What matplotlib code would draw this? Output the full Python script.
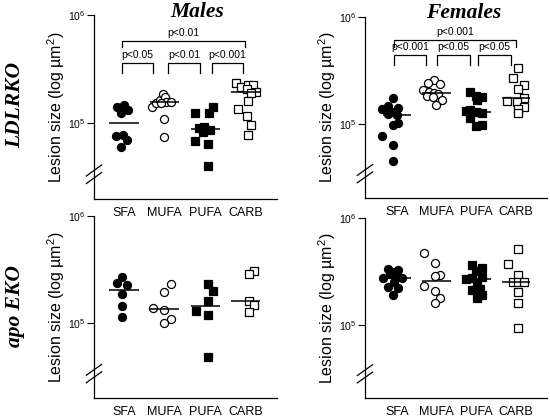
#!/usr/bin/env python3
"""Aortic lesion size by diet (SFA / MUFA / PUFA / CARB),
LDLRKO and apoEKO mice, males and females. Log scale, medians as bars."""
import matplotlib.pyplot as plt
from matplotlib.ticker import NullLocator

plt.rcParams['font.family'] = ['Liberation Sans', 'DejaVu Sans']
plt.rcParams['mathtext.fontset'] = 'custom'
plt.rcParams['mathtext.rm'] = 'Liberation Sans'
plt.rcParams['mathtext.it'] = 'Liberation Sans:italic'

GROUPS = ["SFA", "MUFA", "PUFA", "CARB"]

# lesion sizes in 10^3 um^2; jitter is the
# horizontal scatter of each dot around its group (in group units)
ldlr_male = [
    [147, 142, 132, 123, 77, 76, 69, 60],
    [140, 152, 163, 186, 175, 155, 155, 152, 110, 74],
    [125, 140, 123, 92, 89, 86, 83, 68, 64, 40],
    [233, 217, 225, 225, 205, 195, 191, 161, 134, 115, 96, 77],
]
ldlr_male_jit = [
    [0.01, -0.18, 0.11, -0.07, -0.02, -0.20, 0.07, -0.07],
    [-0.31, -0.22, -0.12, -0.04, 0.0, 0.04, 0.15, -0.08, -0.02, -0.02],
    [-0.24, 0.19, 0.09, -0.02, -0.14, 0.11, -0.06, -0.24, 0.07, 0.07],
    [-0.23, -0.11, 0.06, 0.18, 0.02, 0.26, 0.14, 0.06, -0.2, 0.04, 0.14, 0.06],
]
ldlr_male_med = [100, 157, 88, 195]
ldlr_male_p = ["p<0.05", "p<0.01", "p<0.001"]
ldlr_male_p_all = "p<0.01"

ldlr_female = [
    [176, 147, 140, 137, 130, 123, 121, 103, 98, 77, 63, 45],
    [258, 240, 235, 208, 200, 196, 191, 183, 180, 167, 151],
    [200, 183, 180, 167, 135, 132, 130, 126, 113, 98, 96],
    [331, 267, 231, 211, 174, 165, 162, 145, 137, 128],
]
ldlr_female_jit = [
    [-0.11, -0.24, 0.03, -0.38, -0.09, -0.24, -0.01, 0.03, -0.11, -0.38, -0.11, -0.11],
    [-0.07, -0.21, 0.07, -0.34, -0.19, -0.07, 0.03, -0.25, -0.09, 0.12, -0.01],
    [-0.15, 0.0, 0.14, 0.02, -0.15, -0.27, 0.0, 0.14, -0.15, 0.14, 0.0],
    [0.06, -0.08, 0.2, 0.06, 0.2, -0.23, 0.02, 0.2, 0.06, 0.06],
]
ldlr_female_med = [121, 194, 130, 174]
ldlr_female_p = ["p<0.001", "p<0.05", "p<0.05"]
ldlr_female_p_all = "p<0.001"

apoe_male = [
    [267, 234, 226, 187, 145, 115],
    [231, 193, 138, 132, 109, 99],
    [231, 200, 159, 129, 120, 48],
    [308, 287, 161, 147, 126],
]
apoe_male_jit = [
    [-0.06, -0.18, 0.08, -0.04, -0.04, -0.04],
    [0.15, -0.02, -0.29, -0.02, 0.15, -0.02],
    [0.07, 0.19, 0.07, -0.22, 0.07, 0.07],
    [0.2, 0.07, 0.07, 0.2, 0.07],
]
apoe_male_med = [205, 135, 145, 161]

apoe_female = [
    [331, 327, 315, 298, 289, 277, 273, 254, 228, 223, 191],
    [468, 378, 293, 289, 231, 208, 180, 162],
    [364, 344, 320, 283, 277, 269, 254, 217, 212, 191, 177],
    [513, 369, 293, 254, 254, 254, 205, 160, 94],
]
apoe_female_jit = [
    [-0.24, 0.03, -0.09, -0.17, -0.01, -0.35, 0.12, -0.09, -0.24, 0.03, -0.11],
    [-0.32, -0.05, 0.09, -0.05, -0.32, -0.05, 0.09, -0.05],
    [-0.11, 0.14, 0.0, 0.14, -0.11, -0.27, 0.02, 0.1, -0.11, 0.14, 0.02],
    [0.06, -0.21, 0.06, -0.08, 0.06, 0.2, 0.06, 0.06, 0.06],
]
apoe_female_med = [277, 259, 267, 254]

MARKERS = ["o", "o", "s", "s"]
FACES = ["black", "white", "black", "white"]
MSIZE = [5.8, 5.8, 5.4, 5.4]

W, H = 550, 417


def px_axes(fig, left, top, right, bottom):
    return fig.add_axes([left / W, 1 - bottom / H, (right - left) / W, (bottom - top) / H])


def draw_panel(ax, values, jitter, medians, ylog_bottom, xlim):
    ax.set_yscale("log")
    for i, (vals, jit) in enumerate(zip(values, jitter)):
        xs = [i + j for j in jit]
        ys = [v * 1000 for v in vals]
        ax.plot(xs, ys, linestyle="none", marker=MARKERS[i], ms=MSIZE[i],
                mfc=FACES[i], mec="black", mew=0.9, zorder=3)
        ax.hlines(medians[i] * 1000, i - 0.36, i + 0.36, color="black",
                  lw=1.1, zorder=4)

    ax.set_ylim(10 ** ylog_bottom, 1e6)
    ax.set_xlim(*xlim)
    ax.set_yticks([1e5, 1e6])
    ax.set_yticklabels([r"$\mathregular{10^5}$", r"$\mathregular{10^6}$"], fontsize=7.5)
    ax.yaxis.set_minor_locator(NullLocator())
    ax.set_xticks(range(len(GROUPS)))
    ax.set_xticklabels(GROUPS, fontsize=9)
    ax.tick_params(axis="x", length=0, pad=6)
    ax.tick_params(axis="y", length=5, width=0.8, pad=1)
    for s in ("top", "right"):
        ax.spines[s].set_visible(False)
    for s in ("left", "bottom"):
        ax.spines[s].set_linewidth(0.9)
    ax.set_ylabel("Lesion size (log µm$^2$)", fontsize=11.5, labelpad=1)

    # axis break marks
    for yc in (0.155, 0.114):
        ax.plot([-0.042, 0.042], [yc - 0.03, yc + 0.03], transform=ax.transAxes,
                color="black", lw=0.9, clip_on=False)


def bracket(ax, x0, x1, leg, bar, label):
    ax.plot([x0, x0, x1, x1], [10 ** leg, 10 ** bar, 10 ** bar, 10 ** leg],
            color="black", lw=0.9, clip_on=False)
    ax.text((x0 + x1) / 2, 10 ** (bar + 0.025), label, ha="center", va="bottom",
            fontsize=7.5)


def main():
    fig = plt.figure(figsize=(W / 100, H / 100), dpi=100)

    ax_tl = px_axes(fig, 94, 15, 277, 199)
    ax_tr = px_axes(fig, 365, 17, 547, 198)
    ax_bl = px_axes(fig, 94, 216, 277, 398)
    ax_br = px_axes(fig, 365, 218, 547, 398)

    draw_panel(ax_tl, ldlr_male, ldlr_male_jit, ldlr_male_med, 4.296, (-0.74, 3.77))
    draw_panel(ax_tr, ldlr_female, ldlr_female_jit, ldlr_female_med, 4.308, (-0.81, 3.78))
    draw_panel(ax_bl, apoe_male, apoe_male_jit, apoe_male_med, 4.299, (-0.74, 3.77))
    draw_panel(ax_br, apoe_female, apoe_female_jit, apoe_female_med, 4.318, (-0.81, 3.78))

    # significance brackets, males
    spans_m = [(-0.06, 0.72), (1.09, 1.87), (2.16, 2.94)]
    for (x0, x1), lab in zip(spans_m, ldlr_male_p):
        bracket(ax_tl, x0, x1, 5.466, 5.558, lab)
    bracket(ax_tl, -0.06, 2.97, 5.706, 5.762, ldlr_male_p_all)

    # significance brackets, females
    spans_f = [(-0.08, 0.73), (1.01, 1.83), (2.03, 2.87)]
    for (x0, x1), lab in zip(spans_f, ldlr_female_p):
        bracket(ax_tr, x0, x1, 5.551, 5.645, lab)
    bracket(ax_tr, -0.08, 3.0, 5.722, 5.785, ldlr_female_p_all)

    title_kw = dict(family=["Liberation Serif", "DejaVu Serif"], weight="bold",
                    style="italic", fontsize=15.5, ha="center", va="center")
    fig.text(197 / W, 1 - 12 / H, "Males", **title_kw)
    fig.text(464 / W, 1 - 13 / H, "Females", **title_kw)
    fig.text(15 / W, 1 - 105 / H, "LDLRKO", rotation=90, **title_kw)
    fig.text(15 / W, 1 - 306 / H, "apo EKO", rotation=90, **title_kw)

    fig.savefig("out.png", dpi=100)


if __name__ == "__main__":
    main()
